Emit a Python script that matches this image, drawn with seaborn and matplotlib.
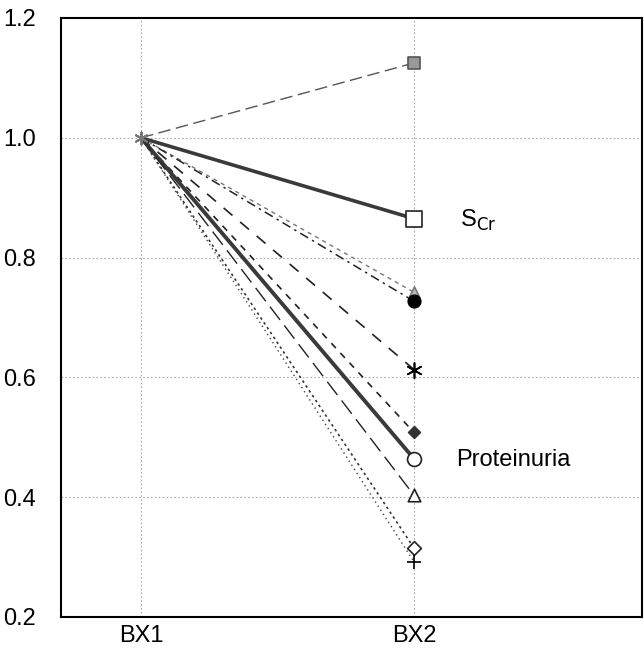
import matplotlib
matplotlib.use("Agg")
import matplotlib.pyplot as plt
import seaborn as sns
import pandas as pd

timepoints = ["BX1", "BX2"]
series_names = ["s1", "SCr", "s3", "s4", "s5", "s6", "Proteinuria", "s8", "s9", "s10"]
bx1_values = [1.0] * 10
bx2_values = [1.125, 0.865, 0.742, 0.727, 0.613, 0.508, 0.464, 0.403, 0.315, 0.292]

styles = {
    "s1": dict(ls=(0, (9, 4)), lw=1.0, c="#555555", m="s", ms=9, fc="#999999", ec="#555555"),
    "SCr": dict(ls="-", lw=2.6, c="#3a3a3a", m="s", ms=11, fc="white", ec="#222222"),
    "s3": dict(ls=(0, (3, 3)), lw=1.0, c="#777777", m="^", ms=8, fc="#bbbbbb", ec="#777777"),
    "s4": dict(ls=(0, (6, 3, 1.5, 3)), lw=1.1, c="#222222", m="o", ms=9, fc="black", ec="black"),
    "s5": dict(ls=(0, (7, 6)), lw=1.2, c="#222222", m=(6, 2, 0), ms=11, fc="black", ec="black"),
    "s6": dict(ls=(0, (4, 4)), lw=1.2, c="#222222", m="D", ms=6, fc="#333333", ec="#333333"),
    "Proteinuria": dict(ls="-", lw=2.8, c="#3a3a3a", m="o", ms=10, fc="white", ec="#222222"),
    "s8": dict(ls=(0, (12, 5)), lw=1.0, c="#222222", m="^", ms=9, fc="white", ec="#222222"),
    "s9": dict(ls=(0, (1.5, 2)), lw=1.2, c="#333333", m="D", ms=7, fc="white", ec="#222222"),
    "s10": dict(ls=(0, (1, 2.5)), lw=1.0, c="#444444", m="+", ms=10, fc="black", ec="black"),
}

rows = []
for name, v1, v2 in zip(series_names, bx1_values, bx2_values):
    rows.append({"series": name, "t": 0, "value": v1})
    rows.append({"series": name, "t": 1, "value": v2})
df = pd.DataFrame(rows)

sns.set_style("white")
plt.rcParams["font.family"] = ["Liberation Sans", "DejaVu Sans"]
plt.rcParams["text.color"] = "black"
plt.rcParams["xtick.color"] = "black"
plt.rcParams["ytick.color"] = "black"

fig = plt.figure(figsize=(6.44, 6.54), dpi=100)
ax = fig.add_axes([0.0947, 0.0566, 0.9023, 0.9159])

for y in [0.4, 0.6, 0.8, 1.0]:
    ax.axhline(y, color="#aaaaaa", lw=0.8, ls=(0, (1.5, 2)), zorder=0)
for x in [0, 1]:
    ax.axvline(x, color="#aaaaaa", lw=0.8, ls=(0, (1.5, 2)), zorder=0)

for name in series_names:
    st = styles[name]
    sub = df[df["series"] == name]
    sns.lineplot(data=sub, x="t", y="value", ax=ax, color=st["c"], linewidth=st["lw"],
                 linestyle=st["ls"], legend=False, zorder=2)
    end = sub[sub["t"] == 1]
    sns.scatterplot(data=end, x="t", y="value", ax=ax, marker=st["m"], s=st["ms"] ** 2,
                    facecolor=st["fc"], edgecolor=st["ec"], linewidth=1.2, legend=False, zorder=3)

start = df[df["t"] == 0]
sns.scatterplot(data=start, x="t", y="value", ax=ax, marker=(6, 2, 0), s=80,
                color="#777777", linewidth=1.0, legend=False, zorder=3)

ax.text(1.17, 0.862, "S$_{\\mathrm{Cr}}$", fontsize=17, va="center", ha="left", color="black")
ax.text(1.155, 0.462, "Proteinuria", fontsize=17, va="center", ha="left", color="black")

ax.set_xlim(-0.293, 1.835)
ax.set_ylim(0.2, 1.2)
ax.set_xticks([0, 1])
ax.set_xticklabels(timepoints)
ax.set_yticks([0.2, 0.4, 0.6, 0.8, 1.0, 1.2])
ax.set_yticklabels(["0.2", "0.4", "0.6", "0.8", "1.0", "1.2"])
ax.tick_params(axis="both", labelsize=17, length=0, labelcolor="black")
ax.tick_params(axis="x", pad=6)
ax.tick_params(axis="y", pad=18)
ax.set_xlabel("")
ax.set_ylabel("")
for sp in ax.spines.values():
    sp.set_color("black")
    sp.set_linewidth(1.5)

fig.savefig("out.png", dpi=100)
